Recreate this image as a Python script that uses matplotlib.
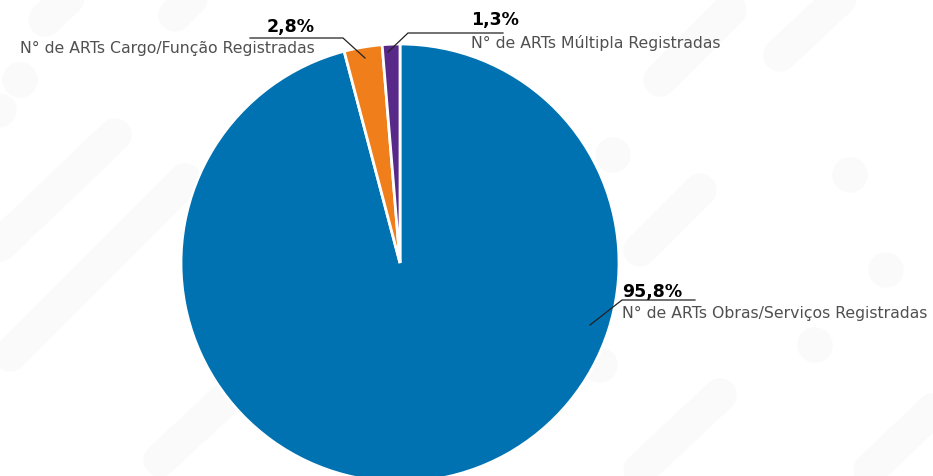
import matplotlib.pyplot as plt

labels = ["N° de ARTs Obras/Serviços Registradas",
          "N° de ARTs Cargo/Função Registradas",
          "N° de ARTs Múltipla Registradas"]
values = [95.8, 2.8, 1.3]
pct_text = ["95,8%", "2,8%", "1,3%"]
colors = ["#0072b1", "#f07f1b", "#59298a"]

W, H = 933, 476
fig = plt.figure(figsize=(W / 100, H / 100), dpi=100)
ax = fig.add_axes([0, 0, 1, 1])
ax.set_xlim(0, W)
ax.set_ylim(0, H)
ax.axis("off")

# faint decorative background stripes / dots (top-left origin, converted)
bg = "#fafafa"
stripes = [((45, 20), (120, -50)), ((0, 110), (-40, 150)), ((115, 135), (0, 245)),
           ((185, 180), (10, 355)), ((175, 15), (250, -60)), ((160, 460), (230, 395)),
           ((660, 80), (730, 10)), ((780, 55), (860, -20)), ((640, 250), (700, 190)),
           ((640, 470), (720, 395)), ((870, 470), (933, 410))]
for (x0, y0), (x1, y1) in stripes:
    ax.plot([x0, x1], [H - y0, H - y1], color=bg, lw=24, solid_capstyle="round", zorder=0)
for cx, cy in [(613, 155), (850, 175), (886, 270), (815, 345), (600, 365), (20, 80)]:
    ax.add_patch(plt.Circle((cx, H - cy), 17, color=bg, zorder=0))

ax.pie(values, colors=colors, startangle=90, counterclock=False,
       center=(400, H - 263), radius=219,
       wedgeprops=dict(edgecolor="white", linewidth=2), frame=True)
ax.set_xlim(0, W)
ax.set_ylim(0, H)
ax.set_aspect("equal")
ax.axis("off")

# leader lines: (start on slice, elbow, end of horizontal)
leaders = [[(590, 325), (622, 300), (695, 300)],
           [(365, 58), (343, 38), (250, 38)],
           [(388, 52), (408, 33), (503, 33)]]
# text anchors: (x, y of percent, y of name, ha)
text_pos = [(622, 292, 313, "left"),
            (315, 27, 48, "right"),
            (471, 20, 43, "left")]

for pts, (tx, py, ny, ha), p, lab in zip(leaders, text_pos, pct_text, labels):
    ax.plot([q[0] for q in pts], [H - q[1] for q in pts], color="#222222", lw=0.9)
    ax.text(tx, H - py, p, fontsize=12.5, fontweight="heavy", color="black",
            ha=ha, va="center", family="DejaVu Sans")
    ax.text(tx, H - ny, lab, fontsize=11.3, color="#505050",
            ha=ha, va="center", family="DejaVu Sans")

fig.savefig("out.png", dpi=100, facecolor="white")
